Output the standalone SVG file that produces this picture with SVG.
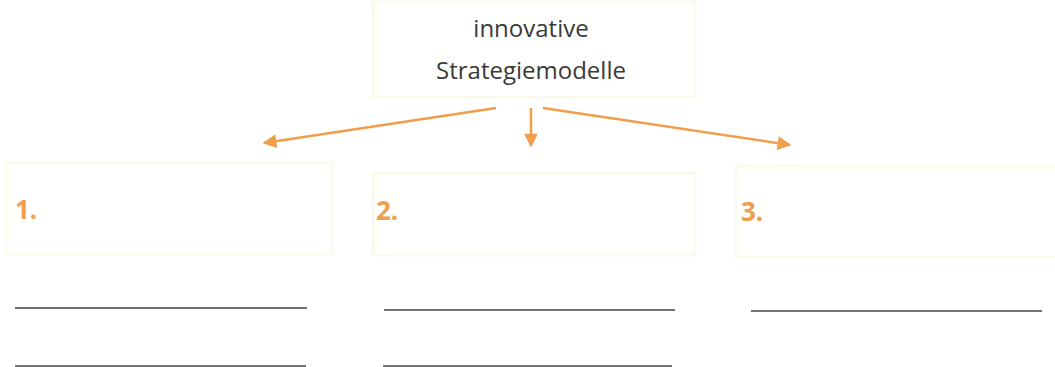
<svg xmlns="http://www.w3.org/2000/svg" width="1055" height="367" viewBox="0 0 1055 367">
<style>
.box{fill:#fffffd;stroke:#fcfaf0;stroke-width:3}
.title{font-family:"Open Sans","Liberation Sans",sans-serif;font-size:24px;fill:#3a3a3a;text-anchor:middle}
.num{font-family:"Open Sans","Liberation Sans",sans-serif;font-size:26px;font-weight:bold;fill:#eea04e}
.conn{stroke:#f09e4c;stroke-width:2.5;fill:none;marker-end:url(#ah)}
.rule{stroke:#444;stroke-width:1.3}
</style>
<defs>
<marker id="ah" viewBox="0 0 10 10" refX="9" refY="5" markerWidth="6.5" markerHeight="5.5" orient="auto" markerUnits="strokeWidth">
<path d="M0,0 L10,5 L0,10 z" fill="#f09e4c"/>
</marker>
</defs>
<rect width="1055" height="367" fill="#ffffff"/>
<g id="node-top">
<rect class="box" x="373" y="2" width="322" height="95"/>
<text class="title" x="531" y="37">innovative</text>
<text class="title" x="531" y="79">Strategiemodelle</text>
</g>
<g id="node-1">
<rect class="box" x="6" y="163" width="326" height="91"/>
<text class="num" x="15" y="219">1.</text>
<line class="rule" x1="15" y1="308" x2="307" y2="308"/>
<line class="rule" x1="15" y1="366" x2="306" y2="366"/>
</g>
<g id="node-2">
<rect class="box" x="373" y="173" width="322" height="82"/>
<text class="num" x="376" y="220">2.</text>
<line class="rule" x1="384" y1="310" x2="675" y2="310"/>
<line class="rule" x1="383" y1="366" x2="672" y2="366"/>
</g>
<g id="node-3">
<rect class="box" x="736" y="166" width="322" height="91"/>
<text class="num" x="741" y="221">3.</text>
<line class="rule" x1="751" y1="311" x2="1042" y2="311"/>
</g>
<g id="connectors">
<line class="conn" x1="496" y1="108" x2="264" y2="143"/>
<line class="conn" x1="531" y1="108" x2="531" y2="146"/>
<line class="conn" x1="543" y1="108" x2="790" y2="145"/>
</g>
</svg>
